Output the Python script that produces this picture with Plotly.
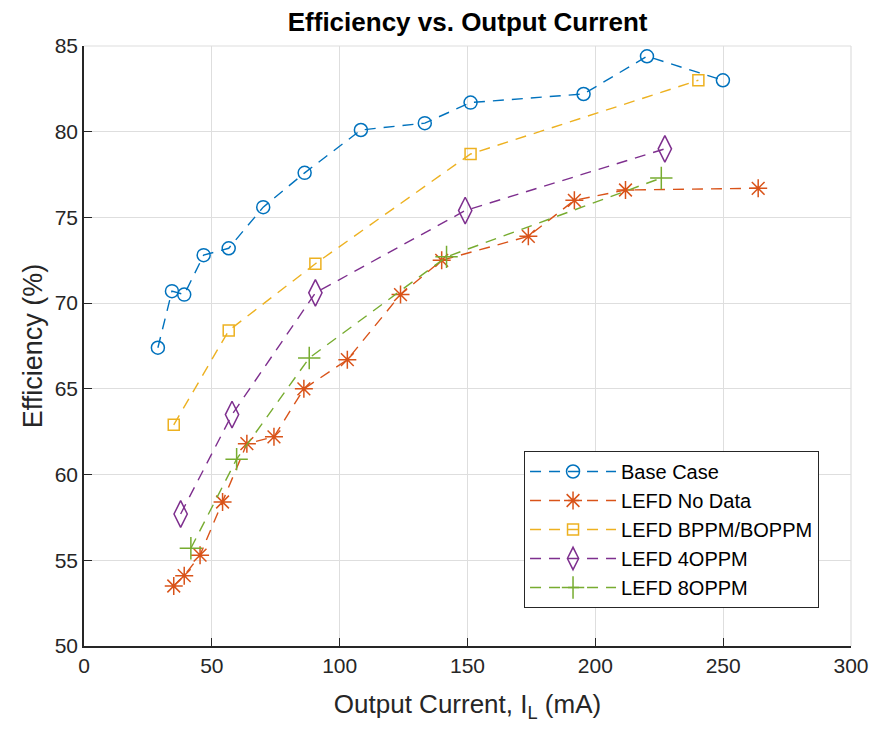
import plotly.graph_objects as go

base_x = [28.9, 34.4, 39.2, 46.8, 56.6, 70.1, 86.3, 108.3, 133.3, 151.2, 195.4, 220.2, 249.9]
base_y = [67.4, 70.7, 70.5, 72.8, 73.2, 75.6, 77.6, 80.1, 80.5, 81.7, 82.2, 84.4, 83.0]

nodata_x = [35.1, 39.2, 45.4, 54.2, 63.7, 74.3, 86.0, 103.0, 123.8, 139.9, 173.8, 191.8, 211.8, 263.7]
nodata_y = [53.5, 54.1, 55.3, 58.4, 61.8, 62.2, 65.0, 66.7, 70.5, 72.5, 73.9, 76.0, 76.6, 76.7]

bppm_x = [35.1, 56.6, 90.5, 151.2, 240.3]
bppm_y = [62.9, 68.4, 72.3, 78.7, 83.0]

oppm4_x = [37.8, 57.9, 90.5, 149.1, 227.2]
oppm4_y = [57.7, 63.5, 70.6, 75.4, 79.0]

oppm8_x = [41.8, 59.7, 88.1, 141.8, 225.8]
oppm8_y = [55.7, 60.9, 66.8, 72.7, 77.3]

series = [
    ("Base Case", base_x, base_y, "#0072BD", "circle-open", 13),
    ("LEFD No Data", nodata_x, nodata_y, "#D95319", "asterisk-open", 15),
    ("LEFD BPPM/BOPPM", bppm_x, bppm_y, "#EDB120", "square-open", 11),
    ("LEFD 4OPPM", oppm4_x, oppm4_y, "#7E2F8E", "diamond-tall-open", 19),
    ("LEFD 8OPPM", oppm8_x, oppm8_y, "#77AC30", "cross-thin-open", 16),
]

fig = go.Figure()
for name, xs, ys, col, sym, sz in series:
    fig.add_trace(go.Scatter(
        x=xs, y=ys, name=name, mode="lines+markers",
        line=dict(color=col, width=1.4, dash="11px,8px"),
        marker=dict(symbol=sym, size=sz, color=col, line=dict(color=col, width=1.5)),
    ))

font = "Liberation Sans, Arial, Helvetica, sans-serif"
axis_common = dict(
    showgrid=True, gridcolor="#DEDEDE", gridwidth=1,
    showline=True, linecolor="#262626", linewidth=1.5,
    ticks="inside", ticklen=8, tickwidth=1.2, tickcolor="#262626",
    tickfont=dict(family=font, size=21, color="#262626"),
    zeroline=False, mirror=False, automargin=False,
)
fig.update_xaxes(range=[0, 300], dtick=50, title=dict(text="Output Current, I<sub>L</sub> (mA)",
                 font=dict(family=font, size=26, color="#262626"), standoff=19), **axis_common)
fig.update_yaxes(range=[50, 85], dtick=5, title=dict(text="Efficiency (%)",
                 font=dict(family=font, size=27, color="#262626"), standoff=4), **axis_common)

# light box edges on top/right (grid look)
fig.add_shape(type="line", xref="paper", yref="paper", x0=0, x1=1, y0=1, y1=1,
              line=dict(color="#DEDEDE", width=1.2))
fig.add_shape(type="line", xref="paper", yref="paper", x0=1, x1=1, y0=0, y1=1,
              line=dict(color="#DEDEDE", width=1.2))

fig.update_layout(
    width=874, height=730,
    margin=dict(l=84, r=23, t=46, b=84, autoexpand=False),
    paper_bgcolor="white", plot_bgcolor="white",
    title=dict(text="<b>Efficiency vs. Output Current</b>", x=0.535, xanchor="center",
               y=1 - 22 / 730, yanchor="middle",
               font=dict(family=font, size=26, color="black")),
    legend=dict(x=0.5737, y=0.325, xanchor="left", yanchor="top",
                bgcolor="white", bordercolor="#262626", borderwidth=1,
                font=dict(family=font, size=20, color="black"),
                itemwidth=86, tracegroupgap=0),
    showlegend=True,
)

fig.write_html("out.html")
